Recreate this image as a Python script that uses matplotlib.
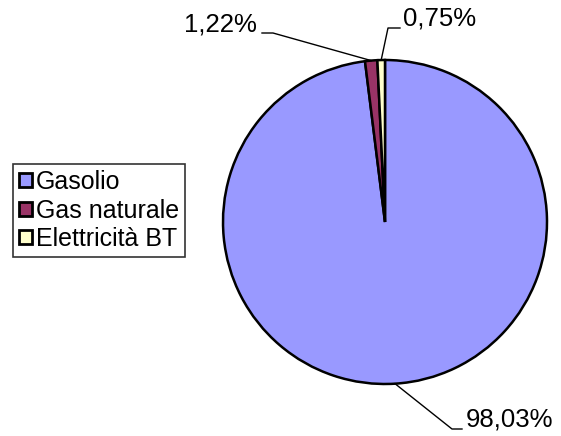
import numpy as np
import matplotlib
matplotlib.use("Agg")
import matplotlib.pyplot as plt
from matplotlib.patches import Patch

categories = ["Gasolio", "Gas naturale", "Elettricità BT"]
values = [98.03, 1.22, 0.75]
labels = ["98,03%", "1,22%", "0,75%"]
colors = ["#9999FF", "#993366", "#FFFFCC"]

plt.rcParams['font.family'] = ['Liberation Sans', 'DejaVu Sans']

W, H = 561, 436
fig = plt.figure(figsize=(W / 100, H / 100), dpi=100)
ax = fig.add_axes([0, 0, 1, 1])

cx, cy, r = 385, H - 222, 162
wedges, _ = ax.pie(values, colors=colors, startangle=90, counterclock=False,
                   center=(cx, cy), radius=r, frame=True,
                   wedgeprops=dict(edgecolor='black', linewidth=1.8))
ax.set_xlim(0, W)
ax.set_ylim(0, H)
ax.set_aspect('equal')
ax.axis('off')

# label layout: (elbow point, end of horizontal, text pos, ha)
layout = [
    ((452, H - 429), (462, H - 429), (466, H - 419), 'left'),
    ((273, H - 33), (262, H - 33), (257, H - 25), 'right'),
    ((388, H - 28), (400, H - 28), (403, H - 19), 'left'),
]
fs = 18.5
for w, lab, (elb, end, tpos, ha) in zip(wedges, labels, layout):
    ang = np.deg2rad((w.theta1 + w.theta2) / 2)
    px = cx + r * np.cos(ang)
    py = cy + r * np.sin(ang)
    ax.plot([px, elb[0], end[0]], [py, elb[1], end[1]], color='black', lw=1.0)
    ax.text(tpos[0], tpos[1], lab, ha=ha, va='center', fontsize=fs, color='black')

handles = [Patch(facecolor=c, edgecolor='black', linewidth=2.0) for c in colors]
leg = fig.legend(handles, categories, loc='upper left',
                 bbox_to_anchor=(13 / W, 1 - 164 / H), fontsize=18,
                 frameon=True, fancybox=False, shadow=False,
                 handlelength=0.5, handleheight=0.5, handletextpad=0.15,
                 labelspacing=0.18, borderpad=0.25, borderaxespad=0)
leg.get_frame().set_edgecolor('black')
leg.get_frame().set_linewidth(1.2)

fig.savefig("out.png", dpi=100)
